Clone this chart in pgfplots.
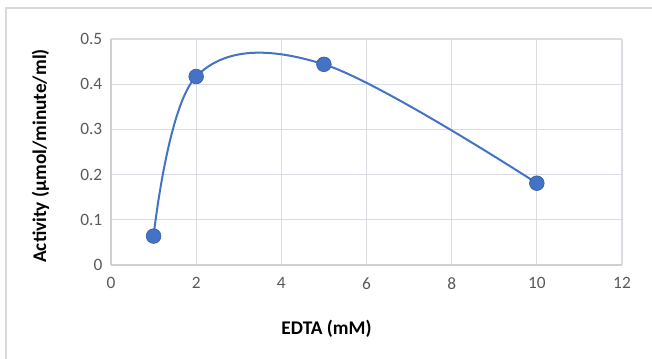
\documentclass[border=0pt]{standalone}
\usepackage{pgfplots}
\pgfplotsset{compat=1.18}
\usepackage{fontspec}
\setmainfont{Carlito}
\definecolor{series}{HTML}{4472C4}
\definecolor{gridc}{HTML}{D9DCE3}
\definecolor{tickc}{HTML}{595959}
\definecolor{framec}{HTML}{D9D9D9}
\begin{document}
\begin{tikzpicture}
% page: 652 x 358 px at 0.75pt/px, axis origin at px (111,265)
\useasboundingbox (-83.25pt,-69.75pt) rectangle (405.75pt,198.75pt);
\draw[framec, line width=0.8pt] (-78.75pt,-90pt) rectangle (430pt,192.75pt);
\begin{axis}[
  at={(0pt,0pt)}, anchor=origin,
  scale only axis,
  width=383.25pt, height=169.5pt,
  xmin=0, xmax=12, ymin=0, ymax=0.5,
  xtick={0,2,...,12},
  ytick={0,0.1,...,0.5},
  yticklabel style={/pgf/number format/fixed, /pgf/number format/precision=1},
  /pgf/number format/assume math mode=true,
  grid=both,
  major grid style={gridc, line width=0.9pt},
  axis line style={gridc!80!black!60, line width=0.9pt},
  axis x line*=bottom, axis y line*=left,
  tick style={draw=none},
  ticklabel style={font=\fontsize{13}{15}\selectfont, text=tickc},
  xticklabel style={yshift=-6pt},
  yticklabel style={xshift=-3pt},
  label style={font=\fontsize{14.5}{17}\selectfont\bfseries},
  xlabel={EDTA (mM)},
  ylabel={Activity (µmol/minute/ml)},
  xlabel style={yshift=-16pt, xshift=-30pt},
  ylabel style={yshift=16.5pt, xshift=-3pt},
]
\addplot[series, line width=1.5pt, smooth, tension=0.6,
  mark=*, mark size=5.5pt, mark options={fill=series, draw=series!85!black, line width=0.5pt}]
  coordinates {(1,0.064) (2,0.417) (5,0.444) (10,0.181)};
\end{axis}
\end{tikzpicture}
\end{document}
